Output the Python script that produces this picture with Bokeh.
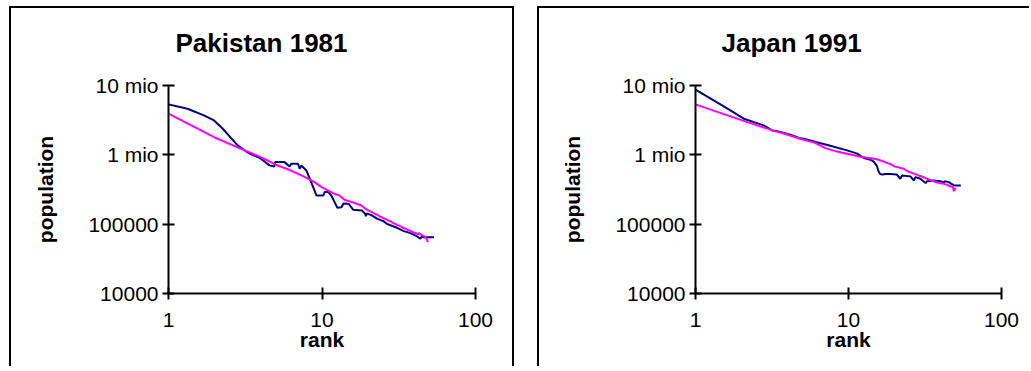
from bokeh.plotting import figure
from bokeh.layouts import row
from bokeh.models import FixedTicker, Range1d, Title
from bokeh.embed import file_html
from bokeh.resources import INLINE

FONT = "Liberation Sans"

# ---- tick definitions / labels ----
x_ticks = [1, 10, 100]
x_tick_labels = ["1", "10", "100"]
y_ticks = [10000, 100000, 1000000, 10000000]
y_tick_labels = ["10000", "100000", "1 mio", "10 mio"]
x_label = "rank"
y_label = "population"
titles = ["Pakistan 1981", "Japan 1991"]

# ---- Pakistan 1981: observed (navy) ----
pk_obs_rank = [1, 1.33, 1.70, 1.98, 2.25, 2.5, 2.82, 3.28, 4.0, 4.55, 4.9, 4.95, 5.7, 6.15,
               6.31, 6.98, 7.15, 7.34, 7.91, 8.76, 9.2, 10.2, 10.4, 11.0, 11.5, 12.6, 13.4,
               13.8, 14.9, 16.0, 18.2, 19.1, 19.3, 19.6, 21.1, 22.8, 25.2, 26.5, 29.3, 30.8,
               34.1, 37.7, 41.7, 43.8, 44.5, 46.1, 53.6]
pk_obs_pop = [5340000, 4620000, 3700000, 3130000, 2400000, 1850000, 1370000, 1080000, 880000,
              705000, 680000, 785000, 785000, 680000, 745000, 745000, 630000, 700000, 596000,
              342000, 259000, 259000, 290000, 290000, 259000, 172000, 175000, 199000, 197000,
              161000, 158000, 141000, 130000, 143000, 134000, 120000, 110000, 101000, 92700,
              88700, 79300, 74200, 66500, 61500, 66000, 64900, 64900]

# ---- Pakistan 1981: rank-size estimate (magenta) ----
pk_fit_rank = list(range(1, 50))
pk_fit_pop = [3920000, 1780000, 1210000, 925000, 720000, 620000, 530000, 460000, 400000, 340000,
              305000, 275000, 260000, 225000, 215000, 205000, 195000, 187000, 170000, 158000,
              150000, 142000, 136000, 128000, 123000, 118000, 113000, 110000, 104000, 101000,
              97000, 95000, 91000, 88000, 86000, 83000, 81000, 79000, 77000, 75000,
              74000, 72000, 74000, 71000, 69000, 68000, 64000, 62000, 55000]

# ---- Japan 1991: observed (navy) ----
jp_obs_rank = [1, 1.53, 2.07, 2.79, 3.17, 3.42, 4.17, 4.84, 5.11, 6.2, 7.6, 9.8, 11.4, 12.6,
               13.9, 14.6, 15.3, 15.7, 16.1, 16.6, 17.5, 18.8, 20.7, 21.8, 22.4, 25.4, 26.7,
               27.4, 29.5, 31.9, 32.7, 36.1, 39.9, 42.0, 42.5, 45.2, 48.9, 54.2]
jp_obs_pop = [8690000, 4990000, 3320000, 2660000, 2250000, 2200000, 1950000, 1730000, 1710000,
              1520000, 1350000, 1160000, 1040000, 900000, 850000, 800000, 700000, 580000, 530000,
              520000, 530000, 530000, 520000, 452000, 505000, 489000, 427000, 477000, 452000,
              391000, 417000, 425000, 417000, 400000, 417000, 404000, 362000, 362000]

# ---- Japan 1991: rank-size estimate (magenta) ----
jp_fit_rank = list(range(1, 51))
jp_fit_pop = [5340000, 3170000, 2350000, 1950000, 1660000, 1500000, 1260000, 1150000, 1080000, 1030000,
              980000, 940000, 915000, 895000, 870000, 840000, 800000, 760000, 730000, 680000,
              665000, 645000, 630000, 590000, 565000, 550000, 530000, 520000, 500000, 490000,
              475000, 460000, 445000, 437000, 425000, 420000, 404000, 400000, 395000, 390000,
              385000, 383000, 375000, 370000, 362000, 350000, 352000, 345000, 300000, 335000]

NAVY = "#000080"
MAGENTA = "#FF00FF"


def panel(title, obs_r, obs_p, fit_r, fit_p, width, ml, mr, title_offset, css, margin):
    p = figure(width=width, height=360, x_axis_type="log", y_axis_type="log",
               x_range=Range1d(1, 100), y_range=Range1d(1e4, 1e7),
               output_backend="svg", toolbar_location=None, tools="",
               min_border_left=ml, min_border_right=mr, min_border_top=77, min_border_bottom=75,
               styles=css, margin=margin)
    p.outline_line_color = None
    p.grid.visible = False
    p.background_fill_color = "white"
    p.border_fill_color = "white"

    # spacer panel between frame and title (first added = closest to frame)
    p.add_layout(Title(text=" ", text_font_size="1px", standoff=25), "above")
    p.add_layout(Title(text=title, text_font=FONT, text_font_size="26px",
                       text_font_style="bold", text_color="black",
                       align="left", offset=title_offset, standoff=0), "above")

    p.xaxis.ticker = FixedTicker(ticks=x_ticks, minor_ticks=[])
    p.yaxis.ticker = FixedTicker(ticks=y_ticks, minor_ticks=[])
    p.xaxis.major_label_overrides = dict(zip(x_ticks, x_tick_labels))
    p.yaxis.major_label_overrides = dict(zip(y_ticks, y_tick_labels))
    p.xaxis.axis_label = x_label
    p.yaxis.axis_label = y_label

    for ax in (p.xaxis, p.yaxis):
        ax.axis_line_width = 2
        ax.axis_line_color = "black"
        ax.major_tick_line_width = 2
        ax.major_tick_line_color = "black"
        ax.major_tick_in = 6
        ax.major_tick_out = 6
        ax.minor_tick_line_color = None
        ax.major_label_text_font = FONT
        ax.major_label_text_font_size = "21px"
        ax.major_label_text_color = "black"
        ax.axis_label_text_font = FONT
        ax.axis_label_text_font_size = "21px"
        ax.axis_label_text_font_style = "bold"
        ax.axis_label_text_color = "black"
    p.xaxis.major_label_standoff = 13
    p.xaxis.axis_label_standoff = -2
    p.yaxis.major_label_standoff = 4
    p.yaxis.axis_label_standoff = 28

    p.line(obs_r, obs_p, line_color=NAVY, line_width=2)
    p.line(fit_r, fit_p, line_color=MAGENTA, line_width=2)
    return p


p1 = panel(titles[0], pk_obs_rank, pk_obs_pop, pk_fit_rank, pk_fit_pop,
           505, 157, 41, 7,
           {"border-top": "2px solid black", "border-left": "2px solid black",
            "border-right": "2px solid black"},
           (6, 0, 0, 9))
p2 = panel(titles[1], jp_obs_rank, jp_obs_pop, jp_fit_rank, jp_fit_pop,
           492, 156, 30, 26,
           {"border-top": "2px solid black", "border-left": "2px solid black"},
           (6, 0, 0, 0))

layout = row(p1, p2, spacing=23)
open("out.html", "w").write(file_html(layout, INLINE))
